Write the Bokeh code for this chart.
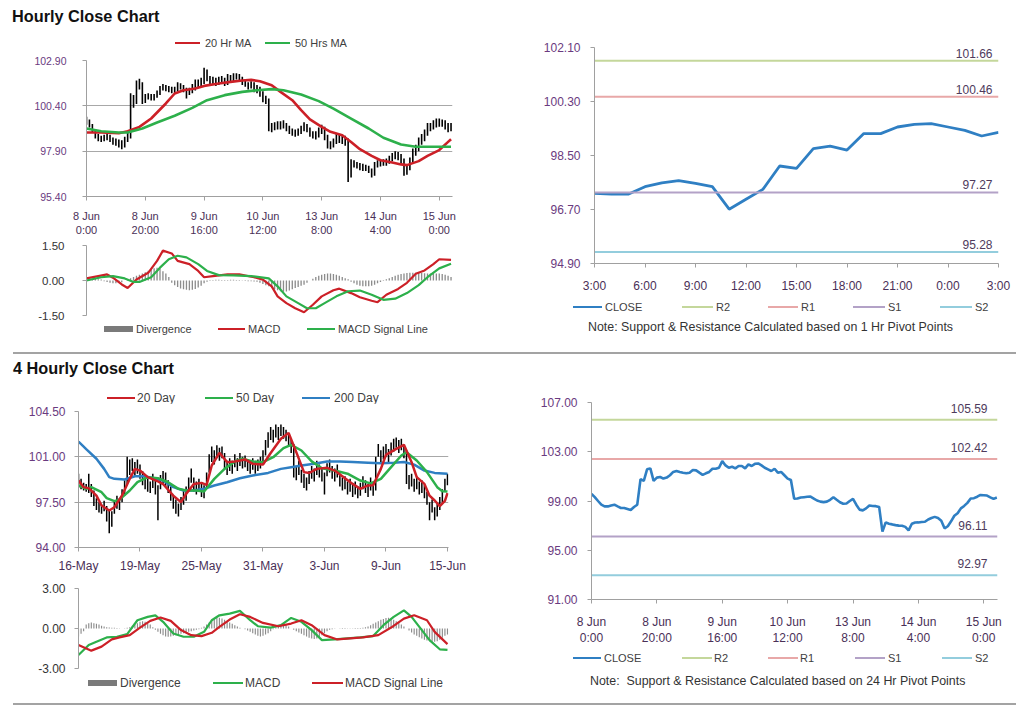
from bokeh.plotting import figure
from bokeh.layouts import column, row
from bokeh.models import Range1d, FixedTicker, NumeralTickFormatter, Div
from bokeh.core.properties import value
from bokeh.embed import file_html
from bokeh.resources import INLINE

# ======================= DATA =======================
# ---- Hourly chart (8 Jun 0:00 ... 15 Jun ~4:00), bar index positions ----
hourly_tick_pos = [0, 20, 40, 60, 80, 100, 120]
hourly_tick_labels = ["8 Jun\n0:00", "8 Jun\n20:00", "9 Jun\n16:00", "10 Jun\n12:00",
                      "13 Jun\n8:00", "14 Jun\n4:00", "15 Jun\n0:00"]

hourly_close = [99.58, 99.31, 99.00, 98.70, 98.56, 98.56, 98.64, 98.70, 98.56, 98.43,
                98.43, 98.35, 98.27, 98.51, 98.70, 100.77, 100.64, 101.57, 101.65, 100.64,
                100.90, 100.95, 100.82, 100.90, 101.09, 101.36, 101.44, 101.36, 101.30, 101.25,
                101.30, 101.52, 101.49, 101.30, 101.12, 101.25, 101.36, 101.62, 101.62, 101.70,
                102.24, 101.89, 101.70, 101.78, 101.65, 101.84, 101.84, 101.65, 101.97, 101.84,
                102.02, 102.05, 101.89, 101.70, 101.57, 101.44, 101.62, 101.30, 101.36, 101.09,
                100.82, 100.71, 99.18, 99.20, 99.28, 99.31, 99.34, 99.36, 99.20, 99.04,
                98.95, 98.91, 98.95, 99.10, 99.31, 99.10, 98.90, 98.78, 98.80, 99.00,
                99.17, 98.70, 98.30, 98.24, 98.40, 98.64, 98.60, 98.58, 98.51, 96.51,
                97.26, 97.15, 97.10, 97.04, 97.00, 96.99, 96.90, 96.62, 97.15, 97.25,
                97.26, 97.30, 97.31, 97.50, 97.62, 97.71, 97.62, 97.40, 96.78, 96.95,
                97.35, 97.80, 98.00, 98.40, 98.60, 98.85, 99.20, 99.23, 99.35, 99.49,
                99.47, 99.44, 99.30, 99.17, 99.28]

hourly_high = [99.80, 99.65, 99.40, 99.10, 98.85, 98.75, 98.80, 98.85, 98.80, 98.65,
               98.60, 98.55, 98.50, 98.70, 98.95, 101.10, 101.00, 101.80, 101.90, 101.70,
               101.05, 101.10, 101.05, 101.05, 101.25, 101.50, 101.60, 101.55, 101.50, 101.45,
               101.45, 101.70, 101.65, 101.55, 101.40, 101.40, 101.60, 101.85, 101.85, 101.95,
               102.50, 102.40, 102.05, 102.00, 101.95, 102.00, 102.05, 101.95, 102.15, 102.10,
               102.20, 102.20, 102.15, 102.00, 101.85, 101.70, 101.75, 101.70, 101.55, 101.45,
               101.20, 100.95, 100.80, 99.45, 99.50, 99.55, 99.55, 99.60, 99.45, 99.30,
               99.15, 99.10, 99.15, 99.30, 99.50, 99.40, 99.20, 99.00, 99.00, 99.20,
               99.35, 99.25, 98.80, 98.45, 98.60, 98.90, 98.85, 98.80, 98.75, 98.60,
               97.45, 97.40, 97.30, 97.25, 97.20, 97.15, 97.10, 96.95, 97.30, 97.40,
               97.45, 97.45, 97.50, 97.65, 97.80, 97.90, 97.85, 97.75, 97.50, 97.15,
               97.55, 98.05, 98.25, 98.65, 98.85, 99.10, 99.45, 99.45, 99.60, 99.70,
               99.70, 99.65, 99.60, 99.45, 99.45]

hourly_low = [99.35, 99.20, 98.90, 98.60, 98.45, 98.40, 98.45, 98.50, 98.40, 98.25,
              98.20, 98.10, 98.00, 98.10, 98.40, 98.60, 100.30, 100.50, 101.30, 100.50,
              100.55, 100.75, 100.70, 100.70, 100.85, 101.00, 101.25, 101.20, 101.15, 101.10,
              101.10, 101.20, 101.30, 101.15, 100.80, 101.00, 101.10, 101.25, 101.40, 101.45,
              101.60, 101.75, 101.55, 101.55, 101.50, 101.55, 101.65, 101.50, 101.55, 101.70,
              101.75, 101.85, 101.75, 101.55, 101.45, 101.30, 101.35, 101.15, 101.10, 100.90,
              100.60, 100.50, 99.00, 98.95, 99.05, 99.10, 99.10, 99.15, 99.00, 98.85,
              98.75, 98.70, 98.75, 98.85, 99.00, 98.95, 98.70, 98.60, 98.55, 98.65,
              98.85, 98.50, 98.05, 98.00, 98.10, 98.30, 98.35, 98.30, 98.20, 96.20,
              96.45, 97.00, 96.95, 96.85, 96.80, 96.80, 96.70, 96.45, 96.55, 97.00,
              97.05, 97.10, 97.10, 97.20, 97.35, 97.45, 97.40, 97.20, 96.55, 96.60,
              96.85, 97.25, 97.65, 97.90, 98.25, 98.45, 98.75, 99.00, 99.10, 99.20,
              99.25, 99.25, 99.10, 98.95, 99.00]

ma20_hr_x = [0, 5, 11, 14, 18, 22, 27, 30, 33, 37, 40, 45, 49, 53, 56, 59, 63, 66, 70, 73,
             76, 80, 83, 87, 90, 93, 97, 100, 104, 107, 109, 113, 116, 120, 123, 124]
ma20_hr_y = [98.93, 98.93, 98.89, 99.00, 99.24, 99.70, 100.53, 101.08, 101.26, 101.36,
             101.50, 101.63, 101.72, 101.80, 101.83, 101.76, 101.54, 101.17, 100.71, 100.16,
             99.65, 99.24, 98.97, 98.78, 98.41, 98.01, 97.64, 97.40, 97.28, 97.17,
             97.13, 97.35, 97.64, 97.96, 98.41, 98.56]
ma50_hr_x = [0, 5, 11, 14, 19, 24, 30, 36, 41, 47, 53, 58, 63, 67, 73, 79, 84, 90, 96, 101,
             107, 112, 118, 124]
ma50_hr_y = [99.15, 99.00, 98.93, 98.93, 99.15, 99.48, 99.85, 100.29, 100.71, 100.99,
             101.17, 101.26, 101.32, 101.26, 101.02, 100.66, 100.25, 99.70, 99.15, 98.64,
             98.27, 98.14, 98.14, 98.14]

macd_hr_x = [0, 4, 7, 9, 12, 14, 17, 21, 24, 26, 29, 31, 35, 38, 40, 43, 48, 52, 57, 60,
             63, 65, 68, 71, 74, 77, 80, 84, 86, 90, 93, 97, 99, 102, 106, 109, 112, 115, 118, 120, 124]
macd_hr_y = [0.09, 0.19, 0.26, 0.12, -0.17, -0.32, 0.04, 0.33, 0.84, 1.28,
             1.16, 0.84, 0.70, 0.41, 0.14, 0.19, 0.26, 0.26, 0.14, 0.04,
             -0.25, -0.68, -0.97, -1.19, -1.36, -1.04, -0.68, -0.42, -0.35, -0.54,
             -0.72, -0.87, -0.93, -0.61, -0.36, -0.10, 0.29, 0.43, 0.70, 0.91, 0.88]
sig_hr_x = [0, 5, 9, 13, 16, 18, 22, 25, 28, 31, 34, 38, 41, 45, 50, 56, 62, 65, 68, 72,
            75, 78, 81, 85, 89, 93, 97, 101, 105, 109, 113, 116, 120, 124]
sig_hr_y = [0.00, 0.14, 0.19, 0.09, -0.06, -0.06, 0.14, 0.55, 0.91, 1.06,
            0.99, 0.70, 0.41, 0.23, 0.22, 0.19, 0.09, -0.25, -0.68, -0.97,
            -1.19, -1.19, -0.97, -0.68, -0.46, -0.43, -0.61, -0.83, -0.78, -0.54,
            -0.20, 0.14, 0.52, 0.72]
div_hr = [0.05, 0.06, 0.07, 0.06, 0.05, 0.04,
          -0.03, -0.06, -0.10, -0.12, -0.12, -0.10, -0.08,
          0.00, 0.05, 0.10, 0.15, 0.20, 0.25, 0.30, 0.35, 0.42, 0.48, 0.52, 0.55, 0.50,
          0.40, 0.30, 0.15,
          -0.10, -0.20, -0.28, -0.34, -0.38, -0.40, -0.42, -0.40, -0.36, -0.30, -0.22, -0.12,
          -0.05, -0.02, 0.02, 0.03, 0.03, 0.02, 0.02, 0.02, 0.03, 0.03, 0.02, 0.02, 0.01, -0.02,
          -0.03, -0.03, -0.04, -0.05,
          -0.10, -0.15, -0.20, -0.25, -0.32, -0.38, -0.42, -0.46, -0.48, -0.47, -0.43, -0.38,
          -0.32, -0.28, -0.22, -0.18,
          -0.10, 0.00, 0.08, 0.15, 0.20, 0.25,
          0.28, 0.30, 0.30, 0.28, 0.25, 0.20, 0.15, 0.10, 0.05,
          -0.05, -0.12, -0.18, -0.22, -0.25, -0.25, -0.25, -0.22, -0.18, -0.12, -0.06, -0.02,
          0.05, 0.10, 0.15, 0.20, 0.25, 0.28, 0.30, 0.32, 0.33, 0.33, 0.33, 0.32, 0.32, 0.31,
          0.30, 0.30, 0.30, 0.30, 0.30, 0.28, 0.25, 0.20, 0.15]

# ---- 1 Hr pivot chart (top right) ----
pivot1_hours = [0, 1, 2, 3, 4, 5, 6, 7, 8, 9, 10, 11, 12, 13, 14, 15, 16, 17, 18, 19, 20, 21, 22, 23, 24]
pivot1_close = [97.24, 97.21, 97.21, 97.46, 97.59, 97.66, 97.57, 97.46, 96.71, 97.04,
                97.37, 98.15, 98.07, 98.73, 98.81, 98.68, 99.23, 99.23, 99.45, 99.54,
                99.56, 99.45, 99.34, 99.15, 99.27]
pivot1_tick_pos = [0, 3, 6, 9, 12, 15, 18, 21, 24]
pivot1_tick_labels = ["3:00", "6:00", "9:00", "12:00", "15:00", "18:00", "21:00", "0:00", "3:00"]
pivot1_levels = [101.66, 100.46, 97.27, 95.28]
level_names = ["R2", "R1", "S1", "S2"]

# ---- 24 Hr pivot chart (bottom right) uses hourly_close ----
pivot24_levels = [105.59, 102.42, 96.11, 92.97]

# ---- 4 Hourly chart (16 May ... 15 Jun) ----
four_tick_pos = [0, 24, 48, 72, 96, 120, 144]
four_tick_labels = ["16-May", "19-May", "25-May", "31-May", "3-Jun", "9-Jun", "15-Jun"]
four_high = [99.7, 99.3, 99.0, 98.9, 99.7, 98.9, 98.4, 97.8, 97.5, 97.3,
             97.6, 97.2, 96.9, 96.8, 97.6, 98.0, 97.8, 98.5, 99.2, 101.0,
             100.8, 100.9, 100.6, 100.8, 100.4, 99.9, 99.5, 99.3, 99.1, 99.7,
             99.2, 98.8, 99.6, 99.9, 99.8, 99.2, 98.7, 98.0, 97.7, 97.4,
             97.9, 98.4, 98.7, 99.4, 100.1, 99.4, 99.1, 99.3, 99.0, 98.8,
             99.8, 101.2, 101.8, 101.5, 101.9, 101.7, 101.8, 101.3, 100.7, 100.9,
             100.7, 101.2, 100.9, 101.3, 101.0, 101.1, 100.8, 100.6, 100.9, 100.6,
             100.8, 101.0, 101.5, 102.3, 102.9, 103.3, 103.1, 103.5, 103.3, 103.5,
             103.3, 103.1, 102.8, 102.4, 102.0, 100.3, 100.7, 100.0, 99.7, 99.4,
             99.9, 100.3, 100.1, 100.7, 100.4, 100.1, 99.8, 100.5, 100.8, 100.3,
             100.1, 100.4, 99.7, 99.4, 99.5, 99.1, 99.3, 98.9, 99.1, 98.7,
             99.0, 99.5, 99.2, 98.9, 99.4, 99.0, 101.0, 102.0, 101.5, 101.8,
             102.0, 101.6, 102.1, 102.4, 102.5, 102.3, 102.4, 101.9, 101.5, 99.6,
             99.7, 99.3, 99.5, 99.1, 99.2, 98.8, 98.3, 97.5, 97.7, 97.1,
             97.4, 97.9, 98.5, 99.3, 99.7]
four_low = [98.6, 98.5, 98.4, 98.3, 98.2, 97.9, 97.2, 96.9, 96.7, 96.6,
            96.8, 96.0, 95.1, 95.6, 96.6, 97.0, 96.9, 97.5, 98.0, 98.8,
            99.6, 99.9, 99.5, 99.7, 99.3, 98.8, 98.5, 98.3, 98.2, 98.6,
            98.1, 96.1, 98.5, 98.9, 98.7, 98.2, 97.6, 97.0, 96.6, 96.4,
            96.9, 97.3, 97.6, 98.3, 99.0, 98.3, 98.1, 98.3, 97.9, 97.8,
            98.6, 99.8, 100.6, 100.4, 101.0, 100.7, 100.9, 100.1, 99.6, 99.9,
            99.7, 100.2, 99.9, 100.3, 100.1, 100.2, 99.9, 99.7, 100.0, 99.7,
            99.9, 100.1, 100.4, 101.1, 101.7, 102.3, 102.1, 102.5, 102.3, 102.6,
            102.4, 102.2, 101.8, 101.3, 99.4, 99.2, 99.6, 99.0, 98.6, 98.4,
            98.9, 99.3, 99.1, 99.6, 99.4, 99.1, 98.1, 99.5, 99.8, 99.3,
            99.1, 99.4, 98.7, 98.4, 98.5, 98.1, 98.3, 97.9, 98.1, 97.8,
            98.0, 98.5, 98.2, 97.9, 98.4, 98.0, 98.4, 101.0, 100.5, 100.8,
            101.0, 100.6, 101.1, 101.4, 101.7, 101.3, 101.5, 100.9, 98.9, 98.5,
            98.7, 98.3, 98.5, 98.1, 98.2, 97.8, 97.3, 96.1, 96.7, 96.1,
            96.4, 96.9, 97.5, 98.3, 98.8]

ma20_4h_x = [0, 2, 4, 7, 9, 12, 14, 17, 20, 22, 24, 27, 31, 33, 37, 40, 42, 45, 48, 50,
             52, 55, 58, 61, 65, 68, 72, 75, 79, 82, 85, 88, 90, 93, 97, 100, 104, 107, 110, 113,
             115, 118, 120, 124, 127, 130, 132, 135, 137, 139, 141, 143, 144]
ma20_4h_y = [99.17, 98.66, 98.58, 98.00, 97.24, 96.86, 97.11, 98.01, 99.30, 100.07,
             99.94, 99.43, 99.10, 98.90, 98.00, 97.50, 98.14, 98.90, 98.99, 98.84,
             100.33, 101.31, 100.59, 100.64, 100.80, 100.46, 100.40, 101.30, 102.39, 102.85,
             101.36, 99.82, 99.75, 100.07, 100.15, 99.94, 99.35, 98.91, 98.53, 98.79,
             98.80, 100.07, 101.15, 101.62, 101.93, 100.59, 99.43, 98.91, 98.00, 97.63,
             97.20, 97.60, 98.20]
ma50_4h_x = [0, 3, 5, 9, 11, 14, 16, 20, 23, 27, 31, 35, 39, 42, 46, 49, 53, 57, 61, 64,
             68, 72, 76, 80, 83, 87, 91, 95, 100, 105, 110, 114, 118, 122, 126, 128, 132, 136, 140, 142, 144]
ma50_4h_y = [98.79, 98.53, 98.66, 98.27, 97.81, 97.58, 97.70, 98.40, 99.04, 99.43,
             99.35, 99.04, 98.53, 98.40, 98.40, 98.32, 99.30, 100.07, 100.64, 100.85,
             100.64, 100.59, 100.97, 101.67, 101.93, 101.49, 100.65, 100.12, 99.94, 99.70,
             99.17, 98.95, 99.30, 100.20, 101.10, 101.36, 100.72, 99.82, 98.66, 98.35, 98.32]
ma200_4h_x = [0, 3, 7, 10, 12, 14, 18, 22, 26, 29, 33, 37, 41, 45, 49, 53, 58, 63, 68, 74,
              79, 83, 87, 92, 97, 102, 107, 113, 118, 123, 127, 131, 135, 139, 144]
ma200_4h_y = [102.18, 101.60, 100.85, 100.07, 99.43, 99.30, 99.25, 99.50, 99.50, 99.35,
              99.17, 98.66, 98.40, 98.40, 98.53, 98.79, 99.04, 99.35, 99.56, 99.76,
              100.07, 100.20, 100.33, 100.46, 100.64, 100.64, 100.60, 100.55, 100.50, 100.54,
              100.60, 100.40, 99.94, 99.76, 99.69]

macd_4h_x = [0, 4, 7, 11, 15, 19, 23, 27, 30, 33, 37, 41, 45, 49, 52, 55, 59, 63, 67, 70,
             75, 79, 83, 87, 91, 95, 100, 105, 110, 115, 119, 123, 127, 130, 134, 137, 141, 144]
macd_4h_y = [-1.99, -1.24, -0.99, -0.67, -0.62, -0.42, 0.62, 0.87, 0.99, 0.50,
             -0.37, -0.62, -0.62, -0.25, 0.62, 0.99, 1.12, 1.32, 0.62, 0.17,
             0.07, 0.25, 0.79, 0.50, -0.12, -0.87, -0.82, -0.74, -0.67, -0.57,
             0.25, 0.87, 1.36, 0.87, -0.12, -0.87, -1.56, -1.61]
sig_4h_x = [0, 5, 9, 13, 16, 20, 24, 28, 32, 36, 40, 44, 48, 52, 55, 59, 63, 67, 72, 78,
            83, 87, 91, 96, 101, 106, 111, 117, 122, 127, 131, 136, 139, 144]
sig_4h_y = [-1.24, -1.66, -1.36, -0.82, -0.67, -0.50, 0.07, 0.57, 0.82, 0.57,
            -0.12, -0.50, -0.57, -0.32, 0.12, 0.67, 1.07, 0.87, 0.42, 0.17,
            0.37, 0.62, 0.25, -0.50, -0.82, -0.74, -0.67, -0.50, 0.07, 0.74,
            0.99, 0.62, -0.25, -1.17]
div_4h = [-0.6, -0.4, -0.2,
          0.3, 0.4, 0.45, 0.4, 0.35, 0.3,
          0.2, 0.15, 0.1, 0.08, 0.05, 0.05, 0.03, 0.02, 0.0, 0.02, 0.05, 0.1,
          0.2, 0.3, 0.4, 0.5, 0.55, 0.5, 0.4, 0.3,
          0.1, -0.1, -0.25, -0.4, -0.5, -0.6, -0.62, -0.6, -0.55,
          -0.5, -0.45, -0.4, -0.35, -0.3, -0.25, -0.2, -0.15, -0.1, -0.05,
          0.05, 0.15, 0.3, 0.45, 0.6, 0.7, 0.78, 0.8, 0.75, 0.65, 0.55, 0.45, 0.35, 0.25, 0.15,
          0.05, 0.0, -0.05, -0.15,
          -0.25, -0.35, -0.45, -0.55, -0.6, -0.55, -0.45, -0.35, -0.2,
          -0.05, 0.1, 0.2, 0.28, 0.3, 0.25, 0.15,
          0.0, -0.1, -0.2, -0.3, -0.4, -0.5, -0.6, -0.7, -0.75, -0.78, -0.75, -0.65, -0.5, -0.35, -0.2,
          -0.1, -0.05, -0.02, 0.0, 0.02, 0.03, 0.03, 0.02, 0.02, 0.02, 0.03, 0.03, 0.03, 0.05, 0.1,
          0.15, 0.25, 0.35, 0.45, 0.55, 0.65, 0.72, 0.78, 0.8, 0.75, 0.65, 0.55, 0.42, 0.3,
          0.15, 0.0, -0.15, -0.3, -0.45, -0.55, -0.65, -0.75, -0.85, -0.9, -0.95, -1.0, -1.0,
          -0.95, -0.85, -0.7, -0.55, -0.45]

# ======================= STYLE =======================
FONT = "Liberation Sans"
TICK_Y = "#6a3a80"
TICK_X = "#4a3057"
AXIS = "#a0a0a0"
GRID = "#a8a8a8"
TEXT = "#404040"
RED = "#cc2027"
GREEN = "#2db04b"
BLUE = "#2f7fc3"
DIVC = "#8c8c8c"
DIV_LEG = "#7a7a7a"
LEVEL_COLORS = ["#c4d79b", "#e8a8a8", "#b3a2c7", "#93cddd"]
LEVEL_TEXT = "#4e3a5c"
TFONT = "font-family:'Liberation Sans',Arial,sans-serif;"


def make_fig(w, h, left, right, top, bottom, xr, yr, xaxis=True):
    p = figure(width=w, height=h, x_range=Range1d(*xr), y_range=Range1d(*yr),
               toolbar_location=None, output_backend="svg", title=None,
               x_axis_location="below" if xaxis else None,
               min_border_left=left, min_border_right=right,
               min_border_top=top, min_border_bottom=bottom)
    p.outline_line_color = None
    p.xgrid.visible = False
    p.ygrid.visible = False
    axes = [p.yaxis[0]] + ([p.xaxis[0]] if xaxis else [])
    for ax in axes:
        ax.axis_line_color = AXIS
        ax.major_tick_line_color = AXIS
        ax.minor_tick_line_color = None
        ax.major_tick_in = 0
        ax.major_tick_out = 4
        ax.major_label_text_font = FONT
    p.yaxis.major_label_text_color = TICK_Y
    if xaxis:
        p.xaxis.major_label_text_color = TICK_X
    return p


def set_y(p, ticks, size, standoff):
    p.yaxis.ticker = FixedTicker(ticks=ticks)
    p.yaxis.formatter = NumeralTickFormatter(format="0.00")
    p.yaxis.major_label_text_font_size = size
    p.yaxis.major_label_standoff = standoff


def set_x(p, ticks, labels, size, standoff):
    p.xaxis.ticker = FixedTicker(ticks=ticks)
    p.xaxis.major_label_overrides = dict(zip(ticks, labels))
    p.xaxis.major_label_text_font_size = size
    p.xaxis.major_label_standoff = standoff


def legend_div(items, w, h, cy, font_px):
    """items: (kind, color, swatch_left, swatch_right, label_left, label)"""
    lh = font_px + 3
    parts = []
    for kind, color, x0, x1, lx, label in items:
        th = 6 if kind == "bar" else 2
        parts.append(f'<span style="position:absolute;left:{x0}px;top:{cy - th / 2}px;'
                     f'width:{x1 - x0}px;height:{th}px;background:{color}"></span>')
        parts.append(f'<span style="position:absolute;left:{lx}px;top:{cy - lh / 2}px;'
                     f'{TFONT}font-size:{font_px}px;line-height:{lh}px;color:{TEXT};'
                     f'white-space:nowrap">{label}</span>')
    html = f'<div style="position:relative;width:{w}px;height:{h}px">' + "".join(parts) + "</div>"
    return Div(text=html, width=w, height=h, margin=0)


def text_div(html, w, h):
    return Div(text=html, width=w, height=h, margin=0)


hidx = list(range(len(hourly_close)))
fidx = list(range(len(four_high)))

# ---------------- Top-left: hourly price ----------------
pA = make_fig(492, 186, 78, 48, 8, 42, (0, 124.5), (95.40, 102.90))
set_y(pA, [95.40, 97.90, 100.40, 102.90], "10.5px", 16)
set_x(pA, hourly_tick_pos, hourly_tick_labels, "11px", 9)
pA.ygrid.visible = True
pA.ygrid.grid_line_color = GRID
pA.segment(x0=hidx, y0=hourly_low, x1=hidx, y1=hourly_high, line_color="black", line_width=1.6)
pA.line(ma20_hr_x, ma20_hr_y, line_color=RED, line_width=2.6)
pA.line(ma50_hr_x, ma50_hr_y, line_color=GREEN, line_width=2.6)
legA = legend_div([("line", RED, 167, 192, 197, "20 Hr MA"),
                   ("line", GREEN, 257, 282, 287, "50 Hrs MA")], 492, 22, 13, 11)

# ---------------- Top-left: hourly MACD ----------------
pB = make_fig(492, 84, 78, 48, 7, 7, (0, 124.5), (-1.5, 1.5), xaxis=False)
set_y(pB, [-1.5, 0.0, 1.5], "11.5px", 18)
pB.yaxis.major_label_text_color = "#333333"
pB.ygrid.visible = True
pB.ygrid.ticker = FixedTicker(ticks=[-1.5, 1.5])
pB.ygrid.grid_line_color = GRID
pB.vbar(x=hidx, top=div_hr, bottom=0, width=0.45, fill_color=DIVC, line_color=None)
pB.line(macd_hr_x, macd_hr_y, line_color=RED, line_width=2.2)
pB.line(sig_hr_x, sig_hr_y, line_color=GREEN, line_width=2.2)
legB = legend_div([("bar", DIV_LEG, 96, 125, 128, "Divergence"),
                   ("line", RED, 210, 237, 240, "MACD"),
                   ("line", GREEN, 299, 327, 330, "MACD Signal Line")], 492, 30, 7, 11)

# ---------------- Top-right: 1 Hr pivots ----------------
pC = make_fig(516, 288, 94, 18, 39, 33, (pivot1_hours[0], pivot1_hours[-1]), (94.90, 102.10))
set_y(pC, [94.90, 96.70, 98.50, 100.30, 102.10], "12px", 10)
set_x(pC, pivot1_tick_pos, pivot1_tick_labels, "12px", 11)
pC.line(pivot1_hours, pivot1_close, line_color=BLUE, line_width=2.8)
for lvl, col in zip(pivot1_levels, LEVEL_COLORS):
    pC.line([pivot1_hours[0], pivot1_hours[-1]], [lvl, lvl], line_color=col, line_width=2)
pC.text(x=[pivot1_hours[-1]] * 4, y=pivot1_levels, text=[f"{v:.2f}" for v in pivot1_levels],
        text_align="right", text_baseline="bottom", x_offset=-6, y_offset=-3,
        text_font=value(FONT), text_font_size="12px", text_color=LEVEL_TEXT)
legC = legend_div([("line", BLUE, 73, 102, 105, "CLOSE"),
                   ("line", LEVEL_COLORS[0], 182, 213, 216, level_names[0]),
                   ("line", LEVEL_COLORS[1], 268, 298, 301, level_names[1]),
                   ("line", LEVEL_COLORS[2], 353, 385, 388, level_names[2]),
                   ("line", LEVEL_COLORS[3], 440, 472, 475, level_names[3])], 516, 20, 11, 11)
note1 = text_div(f'<div style="{TFONT}font-size:12.4px;line-height:15px;color:#333;padding-left:88px;'
                 f'padding-top:4px;white-space:pre">Note: Support &amp; Resistance Calculated based on 1 Hr Pivot Points</div>', 516, 36)

# ---------------- Bottom-left: 4-hourly price ----------------
pD = make_fig(492, 174, 70, 52, 8, 30, (0, 144.4), (94.0, 104.5))
set_y(pD, [94.0, 97.5, 101.0, 104.5], "12px", 9)
set_x(pD, four_tick_pos, four_tick_labels, "12px", 7)
pD.ygrid.visible = True
pD.ygrid.grid_line_color = GRID
pD.segment(x0=fidx, y0=four_low, x1=fidx, y1=four_high, line_color="black", line_width=1.5)
pD.line(ma200_4h_x, ma200_4h_y, line_color=BLUE, line_width=2.5)
pD.line(ma50_4h_x, ma50_4h_y, line_color=GREEN, line_width=2.5)
pD.line(ma20_4h_x, ma20_4h_y, line_color=RED, line_width=2.5)
legD = legend_div([("line", RED, 99, 127, 129, "20 Day"),
                   ("line", GREEN, 197, 225, 228, "50 Day"),
                   ("line", BLUE, 294, 322, 326, "200 Day")], 492, 19, 14, 12)

# ---------------- Bottom-left: 4-hourly MACD ----------------
pE = make_fig(492, 98, 70, 52, 11, 7, (0, 144.4), (-3.0, 3.0), xaxis=False)
set_y(pE, [-3.0, 0.0, 3.0], "12px", 9)
pE.yaxis.major_label_text_color = "#333333"
pE.ygrid.visible = True
pE.ygrid.ticker = FixedTicker(ticks=[-3.0, 3.0])
pE.ygrid.grid_line_color = GRID
pE.vbar(x=fidx, top=div_4h, bottom=0, width=0.45, fill_color=DIVC, line_color=None)
pE.line(macd_4h_x, macd_4h_y, line_color=GREEN, line_width=2.2)
pE.line(sig_4h_x, sig_4h_y, line_color=RED, line_width=2.2)
legE = legend_div([("bar", DIV_LEG, 80, 109, 112, "Divergence"),
                   ("line", GREEN, 205, 235, 237, "MACD"),
                   ("line", RED, 304, 335, 337, "MACD Signal Line")], 492, 28, 8, 12)

# ---------------- Bottom-right: 24 Hr pivots ----------------
pF = make_fig(516, 294, 91, 19, 48, 48, (0, 124.2), (91.0, 107.0))
set_y(pF, [91.0, 95.0, 99.0, 103.0, 107.0], "12px", 10)
set_x(pF, hourly_tick_pos, hourly_tick_labels, "12px", 11)
pF.line(hidx, hourly_close, line_color=BLUE, line_width=2.6)
for lvl, col in zip(pivot24_levels, LEVEL_COLORS):
    pF.line([0, 124.2], [lvl, lvl], line_color=col, line_width=2)
pF.text(x=[124.2] * 4, y=pivot24_levels, text=[f"{v:.2f}" for v in pivot24_levels],
        text_align="right", text_baseline="bottom", x_offset=-10, y_offset=-7,
        text_font=value(FONT), text_font_size="12px", text_color=LEVEL_TEXT)
legF = legend_div([("line", BLUE, 73, 101, 104, "CLOSE"),
                   ("line", LEVEL_COLORS[0], 182, 212, 214, level_names[0]),
                   ("line", LEVEL_COLORS[1], 268, 298, 300, level_names[1]),
                   ("line", LEVEL_COLORS[2], 355, 385, 388, level_names[2]),
                   ("line", LEVEL_COLORS[3], 442, 472, 475, level_names[3])], 516, 22, 10, 11)
note2 = text_div(f'<div style="{TFONT}font-size:12.4px;line-height:15px;color:#333;padding-left:90px;'
                 f'padding-top:4px;white-space:pre">Note:  Support &amp; Resistance Calculated based on 24 Hr Pivot Points</div>', 516, 33)

# ---------------- Titles / separators ----------------
title1 = text_div(f'<div style="{TFONT}font-weight:bold;font-size:16.3px;line-height:17px;color:#111;'
                  f'padding-left:4px;padding-top:0px;white-space:nowrap">Hourly Close Chart</div>', 492, 22)
title2 = text_div(f'<div style="{TFONT}font-weight:bold;font-size:16.3px;line-height:17px;color:#111;'
                  f'padding-left:5px;padding-top:6px;white-space:nowrap">4 Hourly Close Chart</div>', 492, 30)
sep1 = Div(text="", width=1003, height=2, margin=(0, 0, 0, 5), styles={"background-color": "#a3a3a3"})
sep2 = Div(text="", width=1003, height=2, margin=(0, 0, 0, 5), styles={"background-color": "#a3a3a3"})

top = row(column(title1, legA, pA, pB, legB), column(pC, legC, note1))
bottom = row(column(title2, legD, pD, pE, legE), column(pF, legF, note2))
layout = column(top, sep1, bottom, sep2, margin=(8, 0, 0, 8))

open("out.html", "w").write(file_html(layout, INLINE))
